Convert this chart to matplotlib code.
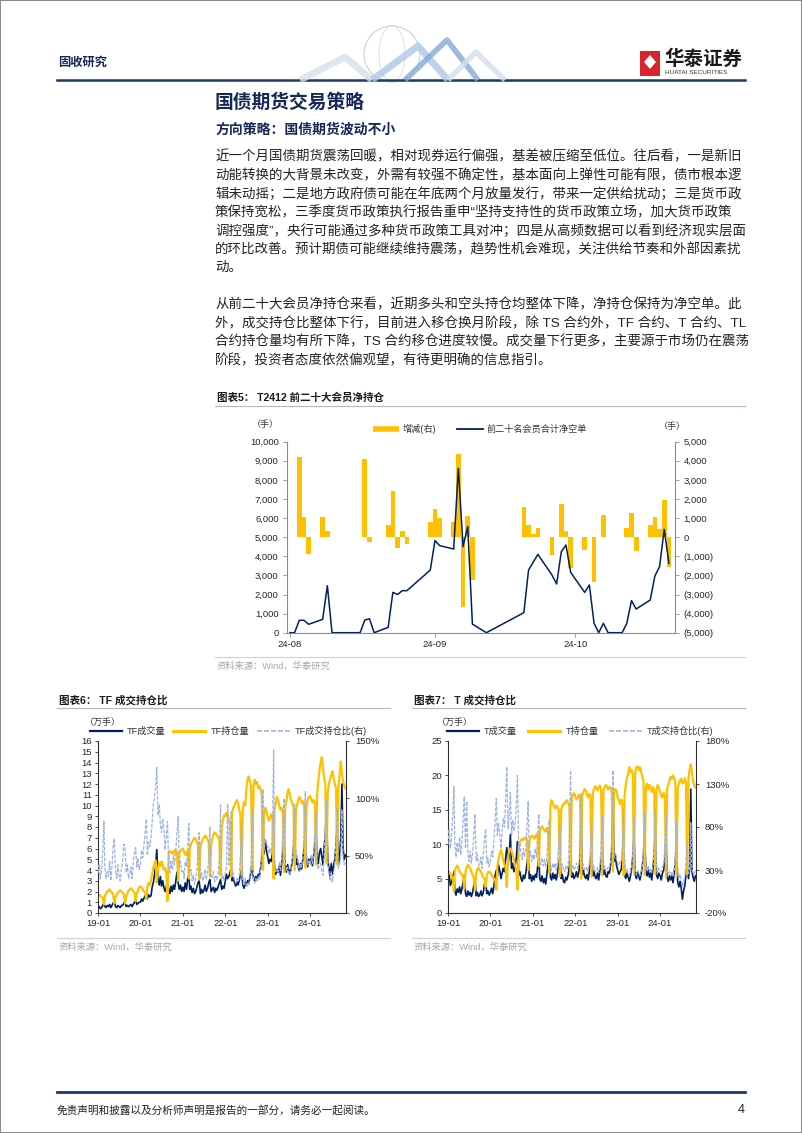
import pandas as pd
import matplotlib
matplotlib.use('Agg')
import matplotlib.pyplot as plt
from matplotlib.lines import Line2D
from matplotlib.patches import Rectangle, Ellipse, Polygon
from matplotlib.ticker import FuncFormatter

plt.rcParams['font.family'] = ['Liberation Sans', 'Noto Sans CJK SC', 'DejaVu Sans']

# ---- chart 5: T2412 top-20 members, net short (left) and daily change (right), 手 ----
net_dates = ['2024-08-01', '2024-08-02', '2024-08-03', '2024-08-04', '2024-08-05', '2024-08-08',
             '2024-08-09', '2024-08-10', '2024-08-16', '2024-08-17', '2024-08-18', '2024-08-19',
             '2024-08-22', '2024-08-23', '2024-08-24', '2024-08-25', '2024-08-26', '2024-08-31',
             '2024-09-01', '2024-09-02', '2024-09-05', '2024-09-06', '2024-09-07', '2024-09-08',
             '2024-09-09', '2024-09-12', '2024-09-20', '2024-09-21', '2024-09-23', '2024-09-26',
             '2024-09-27', '2024-09-28', '2024-09-29', '2024-09-30', '2024-10-03', '2024-10-04',
             '2024-10-05', '2024-10-06', '2024-10-07', '2024-10-08', '2024-10-11', '2024-10-12',
             '2024-10-13', '2024-10-14', '2024-10-17', '2024-10-18', '2024-10-19', '2024-10-20',
             '2024-10-21']
net_short = [0, 0, 650, 650, 440, 700,
             2460, 0, 0, 660, 730, 0,
             280, 2110, 2000, 2200, 2200, 3280,
             4820, 4560, 4380, 8600, 4500, 5560,
             450, 0, 1050, 3280, 4100, 3020,
             2550, 4240, 4590, 3160, 2110, 2500,
             490, 0, 490, 0, 0, 490,
             1680, 1240, 1710, 2970, 3460, 5410,
             3630]

chg_dates = ['2024-08-03', '2024-08-04', '2024-08-05', '2024-08-08', '2024-08-09', '2024-08-17',
             '2024-08-18', '2024-08-22', '2024-08-23', '2024-08-24', '2024-08-25', '2024-08-26',
             '2024-08-31', '2024-09-01', '2024-09-02', '2024-09-05', '2024-09-06', '2024-09-07',
             '2024-09-08', '2024-09-09', '2024-09-20', '2024-09-21', '2024-09-22', '2024-09-23',
             '2024-09-26', '2024-09-28', '2024-09-29', '2024-09-30', '2024-10-03', '2024-10-05',
             '2024-10-07', '2024-10-12', '2024-10-13', '2024-10-14', '2024-10-17', '2024-10-18',
             '2024-10-19', '2024-10-20', '2024-10-21']
chg_vals = [4220, 1050, -890, 1050, 330, 4100,
            -230, 650, 2430, -580, 300, -370,
            790, 1480, 1000, 790, 4350, -3630,
            1120, -2230, 1570, 650, 160, 470,
            -920, 1730, 330, -1620, -660, -2370,
            1170, 470, 1260, -700, 650, 1050,
            420, 1950, -1540]

month_ticks = ['2024-08-01', '2024-09-01', '2024-10-01']
month_labels = ['24-08', '24-09', '24-10']

# ---- charts 6/7: readings every ~10 days (1st, 11th, 21st), 2019-01 .. 2024-11-01 ----
# volume / open interest in 万手, ratio in %
tf_vol = [
    0.5, 0.6, 0.4, 0.5, 0.7, 0.9, 0.6, 0.5, 0.7, 0.6, 0.8, 0.5, 0.7, 0.9, 1.1, 0.6, 0.5, 0.7,
    0.6, 0.5, 0.7, 0.7, 0.9, 1.0, 0.6, 0.7, 0.6, 0.7, 0.8, 0.6, 0.8, 1.0, 1.2, 0.8, 0.9, 1.0,
    1.0, 1.3, 1.1, 1.4, 1.6, 1.8, 1.3, 1.7, 1.5, 1.6, 2.4, 2.8, 3.5, 4.4, 5.9, 3.2, 2.6, 3.4,
    2.5, 3.0, 2.4, 2.0, 2.4, 2.9, 2.2, 1.8, 2.5, 2.0, 2.6, 2.2, 3.0, 3.8, 2.8, 2.2, 2.6, 2.0,
    2.4, 2.0, 2.8, 2.2, 3.2, 3.5, 2.2, 2.5, 1.9, 2.3, 1.8, 2.0, 2.4, 2.8, 3.0, 1.8, 2.2, 1.9,
    2.1, 2.6, 2.0, 2.3, 2.8, 3.1, 2.0, 2.2, 2.4, 1.9, 2.3, 2.1, 2.5, 2.8, 3.1, 2.2, 2.5, 2.3,
    3.0, 3.6, 3.2, 3.4, 3.8, 4.2, 3.0, 3.3, 2.8, 2.5, 2.9, 2.6, 3.0, 3.6, 4.0, 2.6, 2.3, 2.9,
    2.5, 3.0, 2.7, 3.3, 3.9, 4.5, 3.2, 3.0, 3.4, 3.1, 3.6, 3.4, 4.2, 5.0, 6.2, 5.5, 6.8, 5.8,
    5.2, 4.6, 5.0, 4.8, 5.6, 6.4, 4.2, 3.6, 4.0, 3.8, 4.4, 3.5, 4.6, 5.6, 6.8, 4.4, 3.8, 4.5,
    4.0, 3.6, 4.2, 4.8, 5.9, 7.2, 4.5, 5.0, 4.3, 3.9, 4.6, 4.1, 5.2, 6.0, 7.5, 4.8, 4.3, 5.0,
    4.6, 5.2, 4.4, 5.4, 6.4, 7.8, 5.0, 4.6, 5.6, 6.0, 5.2, 4.5, 6.2, 7.2, 10.0, 4.8, 4.2, 3.5,
    4.6, 3.6, 4.4, 5.0, 6.4, 8.0, 4.6, 5.4, 7.0, 12.0, 6.0, 5.0, 5.4,
]
tf_oi = [
    1.8, 1.7, 1.6, 1.5, 1.4, 0.8, 1.6, 1.8, 2.0, 2.1, 2.2, 2.0, 1.9, 1.8, 0.9, 1.5, 1.7, 1.9,
    2.0, 2.1, 2.0, 1.9, 1.8, 0.9, 1.6, 1.8, 2.1, 2.2, 2.3, 2.2, 2.0, 1.9, 1.1, 1.8, 2.1, 2.4,
    2.5, 2.4, 2.2, 2.0, 1.9, 1.3, 2.4, 2.8, 2.6, 3.0, 3.6, 4.2, 4.6, 4.9, 2.8, 4.2, 4.7, 4.4,
    4.8, 4.5, 4.0, 4.2, 3.8, 1.1, 5.6, 5.8, 5.6, 5.7, 5.5, 5.8, 5.9, 5.6, 3.0, 5.6, 5.8, 5.9,
    6.0, 5.7, 5.4, 5.6, 5.8, 3.2, 6.0, 6.4, 6.6, 6.8, 7.0, 6.9, 6.6, 6.3, 3.1, 6.2, 6.6, 6.9,
    7.0, 7.2, 7.1, 6.8, 6.6, 3.4, 6.3, 6.9, 7.3, 7.5, 7.4, 7.2, 7.0, 6.8, 3.5, 7.8, 8.6, 9.1,
    9.0, 9.3, 9.1, 8.6, 8.4, 3.4, 9.4, 9.8, 10.0, 10.3, 10.5, 10.2, 9.6, 9.2, 3.5, 9.8, 10.3, 10.0,
    11.5, 12.4, 12.7, 12.3, 11.8, 4.0, 11.8, 12.4, 12.0, 12.2, 11.6, 11.8, 11.5, 11.0, 4.0, 9.2, 9.8, 9.4,
    9.0, 8.6, 8.8, 9.2, 9.0, 3.2, 9.6, 10.2, 10.8, 10.5, 10.0, 9.6, 9.8, 9.5, 3.8, 9.9, 10.4, 11.2,
    11.5, 11.0, 10.5, 10.2, 9.8, 4.0, 9.4, 10.1, 10.5, 10.8, 10.6, 10.2, 10.4, 10.0, 4.2, 9.9, 10.5, 10.8,
    10.9, 10.6, 10.3, 10.5, 10.2, 4.5, 11.0, 12.2, 13.2, 14.0, 14.5, 13.5, 12.5, 12.0, 4.6, 11.2, 12.0, 12.5,
    12.8, 13.2, 12.6, 12.0, 11.6, 4.5, 11.8, 12.8, 14.1, 13.0, 12.2, 11.8, 11.6,
]
tf_ratio = [
    35, 42, 30, 38, 55, 80, 40, 30, 36, 32, 45, 28, 40, 58, 65, 38, 30, 42,
    33, 28, 38, 45, 60, 58, 35, 42, 30, 34, 40, 30, 45, 52, 57, 40, 48, 38,
    42, 55, 48, 60, 70, 82, 50, 62, 58, 65, 80, 94, 100, 110, 127, 85, 95, 78,
    70, 82, 75, 55, 68, 80, 40, 35, 45, 38, 50, 42, 55, 70, 84, 40, 45, 36,
    38, 30, 45, 40, 55, 78, 35, 38, 28, 33, 25, 30, 38, 50, 70, 30, 35, 28,
    32, 38, 29, 36, 48, 75, 30, 33, 36, 27, 32, 29, 36, 50, 94, 30, 33, 28,
    35, 40, 95, 42, 58, 88, 32, 35, 28, 26, 30, 27, 32, 50, 80, 28, 24, 30,
    23, 26, 24, 30, 45, 90, 28, 26, 30, 27, 32, 29, 38, 60, 108, 55, 65, 60,
    58, 52, 56, 52, 75, 142, 45, 36, 38, 36, 44, 36, 48, 70, 100, 44, 37, 40,
    35, 33, 40, 47, 70, 95, 48, 50, 42, 36, 43, 40, 50, 72, 106, 48, 42, 46,
    42, 50, 43, 52, 70, 88, 45, 38, 42, 43, 36, 33, 50, 75, 98, 43, 35, 28,
    36, 27, 35, 42, 65, 92, 39, 42, 50, 90, 48, 42, 46,
]

t_vol = [
    4.8, 5.5, 4.0, 4.5, 5.2, 6.0, 3.2, 2.6, 3.5, 3.0, 3.8, 2.8, 3.5, 4.5, 5.5, 2.8, 2.4, 3.2,
    2.6, 3.0, 2.4, 3.0, 4.0, 5.0, 2.5, 3.0, 2.4, 2.6, 3.2, 2.5, 3.0, 4.2, 4.8, 2.8, 3.2, 2.6,
    3.0, 3.6, 2.8, 4.0, 5.5, 6.2, 5.5, 7.0, 6.2, 5.0, 5.8, 6.5, 6.0, 8.0, 9.5, 7.0, 8.5, 11.4,
    6.5, 7.2, 6.0, 6.8, 8.0, 10.4, 5.5, 6.0, 5.0, 4.6, 5.5, 5.0, 5.8, 7.2, 8.4, 5.0, 5.6, 4.6,
    5.4, 4.8, 5.6, 5.2, 6.8, 8.0, 5.0, 4.6, 5.4, 4.4, 5.0, 4.2, 5.6, 7.0, 8.4, 5.2, 4.8, 5.8,
    5.0, 5.6, 4.8, 5.8, 7.2, 8.2, 5.0, 5.6, 4.6, 4.4, 5.2, 4.8, 5.6, 6.8, 8.0, 5.2, 5.8, 5.0,
    5.4, 6.0, 5.2, 6.0, 8.0, 15.0, 5.6, 6.2, 5.4, 5.0, 5.6, 4.8, 6.0, 7.4, 9.0, 5.4, 6.0, 5.2,
    5.0, 5.8, 4.8, 6.2, 7.6, 9.4, 5.6, 6.2, 5.4, 5.2, 6.0, 5.8, 7.0, 9.0, 17.5, 7.5, 8.5, 7.0,
    6.2, 5.6, 6.0, 6.4, 8.0, 12.8, 5.6, 5.0, 5.8, 5.2, 4.6, 5.4, 6.6, 8.2, 11.2, 5.6, 5.0, 6.0,
    5.4, 4.8, 5.6, 6.8, 8.4, 11.0, 6.0, 5.4, 6.2, 5.2, 5.8, 4.8, 6.6, 8.4, 12.8, 5.6, 5.0, 5.8,
    5.4, 4.8, 5.8, 6.2, 7.8, 11.0, 5.2, 4.6, 5.4, 4.8, 5.4, 4.4, 5.8, 7.4, 9.7, 4.4, 3.8, 4.6,
    3.6, 2.0, 3.2, 4.0, 5.6, 7.0, 5.0, 6.4, 18.0, 6.0, 5.2, 4.6, 5.4,
]
t_oi = [
    6.2, 6.0, 5.6, 5.4, 5.2, 3.2, 6.2, 6.6, 6.9, 6.5, 6.0, 5.8, 5.5, 5.3, 3.5, 6.0, 6.6, 7.0,
    6.8, 6.5, 6.0, 5.5, 5.2, 3.3, 5.8, 6.4, 6.6, 6.2, 6.0, 5.6, 5.2, 5.0, 3.8, 5.5, 5.9, 6.0,
    5.8, 5.6, 5.2, 5.0, 4.8, 3.4, 6.8, 7.8, 8.6, 9.2, 8.6, 7.6, 7.0, 6.6, 3.8, 8.2, 9.0, 9.4,
    9.0, 8.4, 7.8, 6.8, 6.4, 3.4, 9.6, 10.3, 10.6, 10.8, 10.6, 10.9, 11.0, 10.6, 6.2, 10.4, 11.0, 11.2,
    11.2, 10.8, 11.0, 11.5, 11.2, 6.8, 11.8, 12.4, 12.6, 12.3, 12.0, 11.8, 12.4, 12.0, 5.8, 15.6, 16.4, 16.0,
    15.5, 15.2, 15.6, 15.4, 15.0, 5.3, 15.0, 15.5, 15.9, 15.8, 16.2, 16.4, 16.0, 15.6, 5.5, 16.5, 17.2, 17.4,
    17.0, 16.5, 16.8, 17.2, 16.8, 5.0, 17.0, 17.6, 18.0, 17.8, 17.2, 16.8, 17.3, 17.0, 5.2, 17.5, 18.0, 18.4,
    18.2, 17.8, 18.3, 18.5, 18.0, 5.5, 17.8, 18.3, 18.6, 18.4, 18.0, 18.3, 18.2, 17.6, 6.0, 17.5, 18.0, 17.8,
    16.8, 16.4, 15.8, 16.5, 16.0, 5.5, 17.0, 18.5, 19.6, 20.2, 21.2, 20.5, 20.8, 20.2, 5.8, 20.4, 21.2, 21.3,
    20.8, 21.2, 20.6, 19.8, 19.2, 5.5, 18.4, 18.8, 18.0, 18.6, 18.2, 17.6, 18.3, 17.8, 5.6, 18.0, 18.6, 18.2,
    17.6, 17.0, 16.8, 17.5, 17.0, 5.2, 18.0, 18.6, 19.2, 19.8, 19.5, 20.0, 19.6, 19.0, 5.5, 18.2, 18.8, 19.3,
    19.5, 18.8, 19.0, 19.6, 19.0, 5.6, 19.5, 20.8, 21.6, 20.5, 19.2, 18.6, 18.2,
]
t_ratio = [
    60, 78, 55, 70, 95, 127, 58, 45, 62, 50, 68, 48, 62, 90, 115, 55, 110, 48,
    40, 52, 38, 50, 70, 95, 40, 48, 36, 35, 45, 32, 48, 65, 78, 38, 44, 34,
    40, 52, 45, 65, 90, 113, 70, 85, 72, 55, 75, 90, 80, 110, 150, 78, 95, 120,
    70, 88, 75, 85, 105, 140, 52, 60, 48, 42, 55, 45, 55, 80, 110, 45, 52, 40,
    48, 42, 55, 45, 70, 95, 40, 36, 44, 35, 42, 33, 45, 65, 88, 33, 30, 38,
    32, 38, 30, 38, 60, 82, 33, 37, 29, 28, 34, 30, 36, 70, 146, 32, 35, 30,
    33, 38, 32, 36, 60, 120, 34, 37, 30, 29, 34, 28, 36, 55, 88, 31, 34, 28,
    28, 33, 27, 34, 58, 92, 32, 35, 29, 29, 34, 32, 40, 70, 146, 45, 50, 42,
    38, 35, 40, 40, 62, 100, 34, 28, 31, 27, 23, 28, 33, 55, 90, 28, 24, 29,
    26, 23, 28, 35, 60, 98, 33, 29, 35, 28, 32, 27, 36, 62, 100, 31, 27, 32,
    30, 28, 34, 36, 58, 95, 29, 25, 28, 24, 28, 22, 30, 52, 88, 24, 20, 25,
    19, 11, 17, 21, 40, 62, 26, 30, 85, 30, 27, 25, 30,
]

year_ticks = ['2019-01-01', '2020-01-01', '2021-01-01', '2022-01-01', '2023-01-01', '2024-01-01']
year_labels = ['19-01', '20-01', '21-01', '22-01', '23-01', '24-01']

para1 = [
    '近一个月国债期货震荡回暖，相对现券运行偏强，基差被压缩至低位。往后看，一是新旧',
    '动能转换的大背景未改变，外需有较强不确定性，基本面向上弹性可能有限，债市根本逻',
    '辑未动摇；二是地方政府债可能在年底两个月放量发行，带来一定供给扰动；三是货币政',
    '策保持宽松，三季度货币政策执行报告重申“坚持支持性的货币政策立场，加大货币政策',
    '调控强度”，央行可能通过多种货币政策工具对冲；四是从高频数据可以看到经济现实层面',
    '的环比改善。预计期债可能继续维持震荡，趋势性机会难现，关注供给节奏和外部因素扰',
    '动。',
]
para2 = [
    '从前二十大会员净持仓来看，近期多头和空头持仓均整体下降，净持仓保持为净空单。此',
    '外，成交持仓比整体下行，目前进入移仓换月阶段，除 TS 合约外，TF 合约、T 合约、TL',
    '合约持仓量均有所下降，TS 合约移仓进度较慢。成交量下行更多，主要源于市场仍在震荡',
    '阶段，投资者态度依然偏观望，有待更明确的信息指引。',
]

W, H = 802, 1133
NAVY = '#002060'
GOLD = '#FFC000'
LAV = '#9DB3E2'
HEAD = '#14295A'
TXT = '#222222'


def fx(x):
    return x / W


def fy(y):
    return 1 - y / H


def box(l, t, r, b):
    return [l / W, 1 - b / H, (r - l) / W, (b - t) / H]


def hline(fig, x0, x1, y, **kw):
    fig.add_artist(Line2D([fx(x0), fx(x1)], [fy(y), fy(y)], **kw))


def put(fig, x, y, s, **kw):
    kw.setdefault('va', 'center')
    fig.text(fx(x), fy(y), s, **kw)


def ten_day_grid():
    days = [f'{y}-{m:02d}-{d:02d}' for y in range(2019, 2025) for m in range(1, 13)
            for d in (1, 11, 21) if (y, m) <= (2024, 10)]
    return pd.to_datetime(days + ['2024-11-01'])


def draw_page(fig):
    # page frame
    fig.add_artist(Rectangle((0, 0), 1, 1, fill=False, edgecolor='#8C8C8C', lw=1.5))

    # header
    put(fig, 58, 63, '固收研究', fontsize=8.8, fontweight='bold', color=HEAD)
    hline(fig, 57, 745, 80, color='#1F3864', lw=1.8)
    fig.add_artist(Ellipse((fx(392), fy(54)), 56 / W, 56 / H, fill=False, ec='#C9D0D9', lw=0.8))
    fig.add_artist(Ellipse((fx(392), fy(54)), 26 / W, 56 / H, fill=False, ec='#D5DBE3', lw=0.6))
    for pts, col, lw in [([(300, 80), (345, 57), (372, 80)], '#D7E0EB', 5),
                         ([(372, 80), (418, 46), (448, 80)], '#AFC7E5', 5),
                         ([(405, 80), (447, 40), (478, 80)], '#84A9D8', 4),
                         ([(448, 80), (476, 52), (505, 80)], '#D3DEEC', 4)]:
        fig.add_artist(Line2D([fx(p[0]) for p in pts], [fy(p[1]) for p in pts],
                              color=col, lw=lw, alpha=0.8, solid_capstyle='butt'))
    fig.add_artist(Rectangle((fx(640), fy(76)), 20 / W, 25 / H, facecolor='#D9232D', edgecolor='none'))
    fig.add_artist(Polygon([(fx(650), fy(55)), (fx(656), fy(62)), (fx(650), fy(69)), (fx(644), fy(62))],
                           closed=True, facecolor='white', edgecolor='none'))
    put(fig, 664, 59, '华泰证券', fontsize=14, fontweight='bold', color='#1A1A1A')
    put(fig, 665, 73, 'HUATAI SECURITIES', fontsize=4.6, color='#333333')

    # headings and body
    put(fig, 215, 103, '国债期货交易策略', fontsize=13.5, fontweight='bold', color=HEAD)
    put(fig, 215, 130, '方向策略：国债期货波动不小', fontsize=10, fontweight='bold', color=HEAD)
    for i, line in enumerate(para1):
        put(fig, 215, 157 + 18.5 * i, line, fontsize=9.7, color=TXT)
    for i, line in enumerate(para2):
        put(fig, 215, 305 + 18.5 * i, line, fontsize=9.7, color=TXT)

    # footer
    hline(fig, 57, 745, 1092, color='#1F3864', lw=2)
    put(fig, 57, 1110, '免责声明和披露以及分析师声明是报告的一部分，请务必一起阅读。', fontsize=7.7, color=TXT)
    put(fig, 745, 1110, '4', fontsize=9, color=TXT, ha='right')


def chart_frame(fig, x0, x1, y_title, y_src, title):
    put(fig, x0 + 2, y_title, title, fontsize=7.6, fontweight='bold', color='#1A1A1A')
    hline(fig, x0, x1, y_title + 8, color='#A9B8CA', lw=0.8)
    hline(fig, x0, x1, y_src - 9, color='#C8D2DE', lw=0.8)
    put(fig, x0 + 2, y_src, '资料来源：Wind，华泰研究', fontsize=6.7, color='#A6A6A6')


def draw_chart5(fig):
    chart_frame(fig, 215, 745, 398, 666, '图表5： T2412 前二十大会员净持仓')
    gray = '#8C8C8C'
    ax = fig.add_axes(box(287, 441.7, 675, 632.7))
    ax2 = ax.twinx()
    ax2.bar(pd.to_datetime(chg_dates), chg_vals, width=1.0, color=GOLD, linewidth=0)
    ax.plot(pd.to_datetime(net_dates), net_short, color=NAVY, lw=1.1)
    ax.set_zorder(ax2.get_zorder() + 1)
    ax.patch.set_visible(False)

    start = pd.Timestamp('2024-08-01')
    ax.set_xlim(start - pd.Timedelta(hours=15), start + pd.Timedelta(days=82.3))
    ax.set_xticks(pd.to_datetime(month_ticks))
    ax.set_xticklabels(month_labels)
    ax.set_ylim(0, 10000)
    ax.set_yticks(range(0, 10001, 1000))
    ax.yaxis.set_major_formatter(FuncFormatter(lambda v, p: f'{v:,.0f}'))
    ax2.set_ylim(-5000, 5000)
    ax2.set_yticks(range(-5000, 5001, 1000))
    ax2.yaxis.set_major_formatter(FuncFormatter(
        lambda v, p: '0' if abs(v) < 1 else (f'{v:,.0f}' if v > 0 else f'({-v:,.0f})')))

    ax.spines['top'].set_visible(False)
    ax.spines['right'].set_visible(False)
    for s in ('top', 'left', 'bottom'):
        ax2.spines[s].set_visible(False)
    for a in (ax, ax2):
        for s in a.spines.values():
            s.set_color(gray)
            s.set_linewidth(0.8)
        a.tick_params(axis='y', labelsize=6.8, length=3, width=0.6, color=gray, pad=3, labelcolor='#262626')
    ax.tick_params(axis='x', labelsize=6.8, length=3, width=0.6, color=gray, pad=2, labelcolor='#262626')

    put(fig, 265, 424, '（手）', fontsize=6.5, color='#333333', ha='center')
    put(fig, 672, 426, '（手）', fontsize=6.5, color='#333333', ha='center')
    hline(fig, 373, 399, 429, color=GOLD, lw=4, solid_capstyle='butt')
    put(fig, 403, 429, '增减(右)', fontsize=6.6, color='#333333')
    hline(fig, 457, 483, 429, color=NAVY, lw=1.3)
    put(fig, 487, 429, '前二十名会员合计净空单', fontsize=6.6, color='#333333')


def draw_ratio_chart(fig, left, vol, oi, ratio, ymax, ystep, rlim, rstep, name, title):
    x0 = left - 41 if left < 400 else left - 36
    x1 = x0 + 333
    chart_frame(fig, x0, x1, 700, 947, title)
    dark = '#303030'
    dates = ten_day_grid()
    ax = fig.add_axes(box(left, 741, left + 248, 913))
    ax2 = ax.twinx()
    ax.plot(dates, vol, color=NAVY, lw=1.2)
    ax.plot(dates, oi, color=GOLD, lw=1.6)
    ax2.plot(dates, ratio, color=LAV, lw=0.9, ls=(0, (3, 1.2)))

    ax.set_xlim(pd.Timestamp('2019-01-01'), pd.Timestamp('2024-11-05'))
    ax.set_xticks(pd.to_datetime(year_ticks))
    ax.set_xticklabels(year_labels)
    ax.set_ylim(0, ymax)
    ax.set_yticks(range(0, ymax + 1, ystep))
    ax2.set_ylim(*rlim)
    ax2.set_yticks(range(rlim[0], rlim[1] + 1, rstep))
    ax2.yaxis.set_major_formatter(FuncFormatter(lambda v, p: f'{v:.0f}%'))

    ax.spines['top'].set_visible(False)
    ax.spines['right'].set_visible(False)
    for s in ('top', 'left', 'bottom'):
        ax2.spines[s].set_visible(False)
    for a in (ax, ax2):
        for s in a.spines.values():
            s.set_color(dark)
            s.set_linewidth(0.8)
    ax.tick_params(axis='y', labelsize=6.8, length=2.5, width=0.6, color=dark, pad=2, labelcolor='#262626')
    ax2.tick_params(axis='y', labelsize=6.8, length=2.5, width=0.6, color=dark, pad=4, labelcolor='#262626')
    ax.tick_params(axis='x', labelsize=6.8, length=2.5, width=0.6, color=dark, pad=2, labelcolor='#262626')

    # legend row above the plot
    lx = left - 8 if left < 400 else left - 1
    put(fig, left + 5 if left < 400 else left + 7, 722, '（万手）', fontsize=6.5, color='#333333', ha='center')
    hline(fig, lx, lx + 32, 731, color=NAVY, lw=1.6)
    put(fig, lx + 37, 731, f'{name}成交量', fontsize=6.6, color='#333333')
    sx = lx + 83 if left < 400 else lx + 81
    hline(fig, sx, sx + 32, 731, color=GOLD, lw=2.2)
    put(fig, sx + 38, 731, f'{name}持仓量', fontsize=6.6, color='#333333')
    dx = sx + 84 if left < 400 else sx + 81
    hline(fig, dx, dx + 33, 731, color=LAV, lw=1.2, ls=(0, (3, 1.2)))
    put(fig, dx + 38, 731, f'{name}成交持仓比(右)', fontsize=6.6, color='#333333')


def main():
    fig = plt.figure(figsize=(W / 100, H / 100), dpi=100)
    draw_page(fig)
    draw_chart5(fig)
    draw_ratio_chart(fig, 98, tf_vol, tf_oi, tf_ratio, 16, 1, (0, 150), 50, 'TF', '图表6： TF 成交持仓比')
    draw_ratio_chart(fig, 448, t_vol, t_oi, t_ratio, 25, 5, (-20, 180), 50, 'T', '图表7： T 成交持仓比')
    fig.savefig('out.png', dpi=100)
    plt.close(fig)


if __name__ == '__main__':
    main()
